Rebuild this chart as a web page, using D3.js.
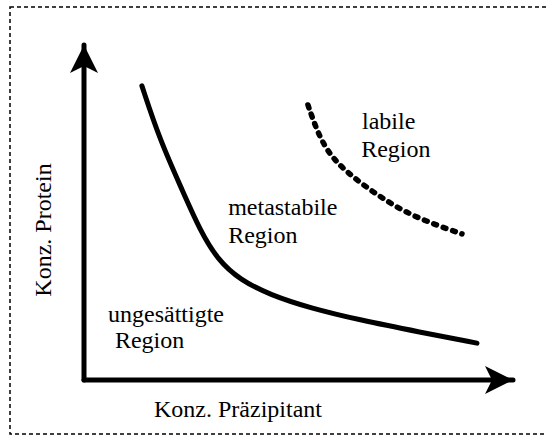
<!DOCTYPE html>
<html>
<head>
<meta charset="utf-8">
<script src="https://cdn.jsdelivr.net/npm/d3@7"></script>
<style>
  body { margin: 0; background: #fff; }
</style>
</head>
<body>
<div id="chart"></div>
<script>
// solubility curve (solid) and supersolubility curve (dashed), in arbitrary units 0..100
const solX = [13.5, 17.7, 22.9, 27.0, 31.2, 36.4, 43.4, 52.7, 64.3, 78.3, 91.6];
const solY = [87.8, 71.6, 56.7, 44.8, 35.8, 29.9, 25.4, 21.5, 17.9, 14.3, 11.0];
const labX = [52.2, 55.7, 61.3, 69.0, 76.7, 88.1];
const labY = [82.1, 69.3, 61.8, 54.6, 48.7, 43.6];

const xTitle = "Konz. Präzipitant";
const yTitle = "Konz. Protein";
const regions = [
  { lines: ["labile", "Region"], x: [64.8, 64.6], y: [74.9, 66.5] },
  { lines: ["metastabile", "Region"], x: [33.6, 33.6], y: [49.3, 40.9] },
  { lines: ["ungesättigte", "Region"], x: [5.6, 7.2], y: [17.3, 9.6] }
];

const font = "'Liberation Serif', 'DejaVu Serif', serif";
const width = 546, height = 436;
const svg = d3.select("#chart").append("svg")
  .attr("width", width).attr("height", height);

// dashed frame
svg.append("rect")
  .attr("x", 10).attr("y", 7)
  .attr("width", 540).attr("height", 427)
  .attr("fill", "none").attr("stroke", "#000")
  .attr("stroke-width", 1.5).attr("stroke-dasharray", "4,3");

const x = d3.scaleLinear().domain([0, 100]).range([84, 513]);
const y = d3.scaleLinear().domain([0, 100]).range([380, 45]);

// arrowheads
const defs = svg.append("defs");
defs.append("marker")
  .attr("id", "arrow")
  .attr("viewBox", "0 0 28 28")
  .attr("refX", 28).attr("refY", 14)
  .attr("markerWidth", 28).attr("markerHeight", 28)
  .attr("markerUnits", "userSpaceOnUse")
  .attr("orient", "auto")
  .append("path")
  .attr("d", "M0,0 L28,14 L0,28 L7,14 Z")
  .attr("fill", "#000");

const axisG = svg.append("g");
axisG.append("line")
  .attr("x1", x(0)).attr("y1", y(0)).attr("x2", x(100)).attr("y2", y(0))
  .attr("stroke", "#000").attr("stroke-width", 5).attr("stroke-linecap", "round")
  .attr("marker-end", "url(#arrow)");
axisG.append("line")
  .attr("x1", x(0)).attr("y1", y(0)).attr("x2", x(0)).attr("y2", y(100))
  .attr("stroke", "#000").attr("stroke-width", 5).attr("stroke-linecap", "round")
  .attr("marker-end", "url(#arrow)");

const line = d3.line()
  .x(d => x(d[0])).y(d => y(d[1]))
  .curve(d3.curveBasis);

svg.append("path")
  .datum(d3.zip(solX, solY))
  .attr("d", line)
  .attr("fill", "none").attr("stroke", "#000")
  .attr("stroke-width", 5).attr("stroke-linecap", "round");

svg.append("path")
  .datum(d3.zip(labX, labY))
  .attr("d", line)
  .attr("fill", "none").attr("stroke", "#000")
  .attr("stroke-width", 5.5).attr("stroke-linecap", "round")
  .attr("stroke-dasharray", "3,7");

// axis titles
svg.append("text")
  .attr("x", 238).attr("y", 417)
  .attr("text-anchor", "middle")
  .attr("font-family", font).attr("font-size", 24)
  .text(xTitle);

svg.append("text")
  .attr("transform", "translate(51,230) rotate(-90)")
  .attr("text-anchor", "middle")
  .attr("font-family", font).attr("font-size", 24)
  .text(yTitle);

// region labels
regions.forEach(r => {
  r.lines.forEach((t, i) => {
    svg.append("text")
      .attr("x", x(r.x[i])).attr("y", y(r.y[i]))
      .attr("font-family", font).attr("font-size", 24)
      .text(t);
  });
});
</script>
</body>
</html>
